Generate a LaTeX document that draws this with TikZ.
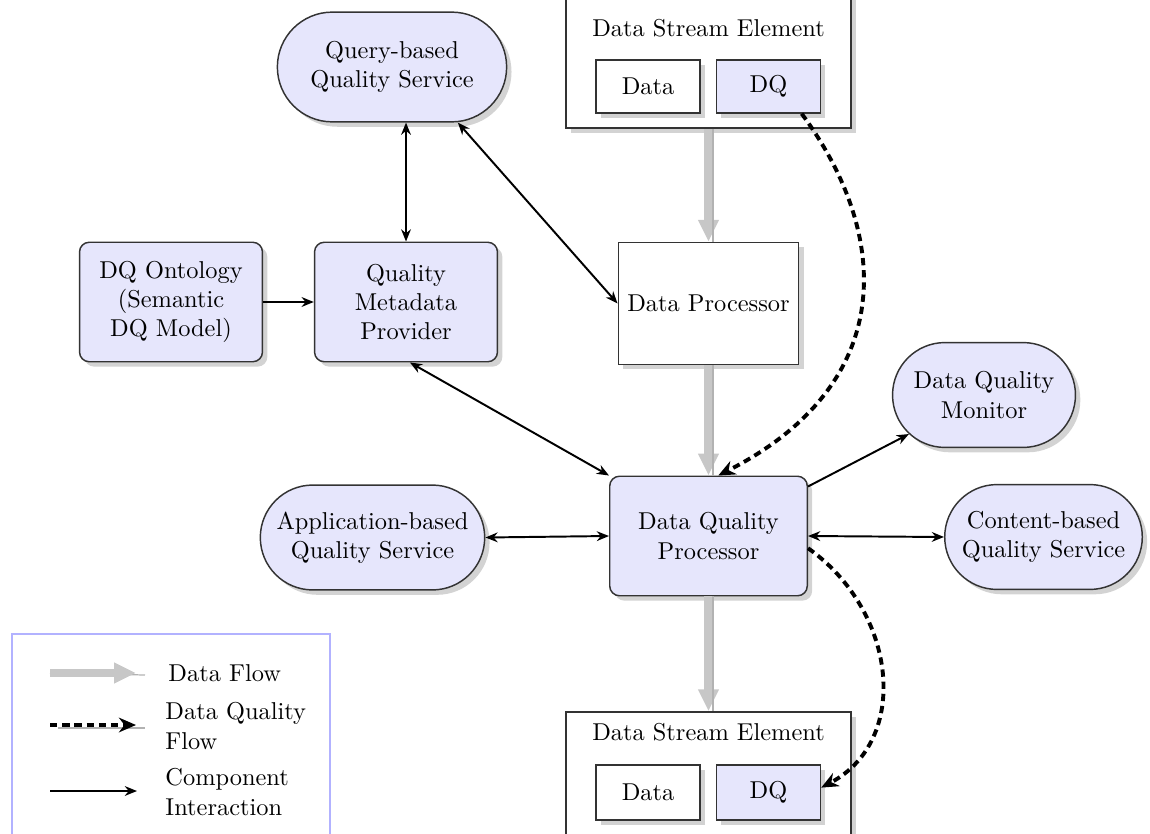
\documentclass[tikz,border=0pt]{standalone}
\usetikzlibrary{shapes.misc,shadows,arrows.meta}
\definecolor{dqfill}{RGB}{230,230,252}
\begin{document}
\begin{tikzpicture}[x=0.41pt,y=0.41pt,
  shad/.style={drop shadow={shadow xshift=2pt,shadow yshift=-2pt,opacity=0.35}},
  bluebox/.style={rectangle,rounded corners=4pt,draw=black!80,line width=0.6pt,fill=dqfill,align=center,shad,inner sep=2pt},
  whitebox/.style={rectangle,draw=black!80,line width=0.6pt,fill=white,align=center,shad,inner sep=2pt},
  pill/.style={rounded rectangle,draw=black!80,line width=0.6pt,fill=dqfill,align=center,shad,inner sep=2pt},
  inter/.style={line width=0.8pt,{Stealth[length=5pt,width=4pt]}-{Stealth[length=5pt,width=4pt]}},
  interone/.style={line width=0.8pt,-{Stealth[length=5pt,width=4pt]}},
  dqflow/.style={line width=1.6pt,dash pattern=on 3pt off 2pt,-{Stealth[length=7pt,width=6pt]}},
  dflow/.style={line width=3.6pt,black!22,-{Triangle[length=9pt,width=8pt]}},
  dthin/.style={line width=0.5pt,black!30},
  lbl/.style={anchor=west,align=left,inner sep=0pt}
]
\useasboundingbox (0,0) rectangle (1150,833);
\clip (0,0) rectangle (1150,833);

% Data stream element (top)
\node[whitebox,minimum width=117pt,minimum height=60.7pt] (dsetop) at (708.5,779) {};
\node (dsettitle) at (708.5,805) {Data Stream Element};
\node[whitebox,minimum width=42.6pt,minimum height=21.7pt] (datatop) at (648,746.5) {Data};
\node[whitebox,fill=dqfill,minimum width=42.6pt,minimum height=21.7pt] (dqtop) at (768.5,746.5) {DQ};

% Data stream element (bottom)
\node[whitebox,minimum width=117pt,minimum height=56.6pt] (dsebot) at (708.5,52) {};
\node (dsebtitle) at (708.5,101) {Data Stream Element};
\node[whitebox,minimum width=42.6pt,minimum height=22.5pt] (databot) at (648,40.5) {Data};
\node[whitebox,fill=dqfill,minimum width=42.6pt,minimum height=22.5pt] (dqbot) at (768.5,40.5) {DQ};

% Components
\node[pill,minimum width=98pt,minimum height=45pt] (qbqs) at (392,766) {Query-based\\Quality Service};
\node[whitebox,minimum width=74pt,minimum height=50pt] (dp) at (708.5,529.5) {Data Processor};
\node[bluebox,minimum width=75pt,minimum height=49pt] (onto) at (171,531) {DQ Ontology\\(Semantic\\DQ Model)};
\node[bluebox,minimum width=75pt,minimum height=49pt] (qmp) at (406,531) {Quality\\Metadata\\Provider};
\node[pill,minimum width=79pt,minimum height=43pt] (mon) at (984,438) {Data Quality\\Monitor};
\node[bluebox,minimum width=81pt,minimum height=49pt] (dqp) at (708.5,297) {Data Quality\\Processor};
\node[pill,minimum width=96pt,minimum height=43pt] (app) at (372.5,295.5) {Application-based\\Quality Service};
\node[pill,minimum width=85pt,minimum height=43pt] (cont) at (1043.5,296) {Content-based\\Quality Service};

% Data flow
\draw[dflow] (dsetop.south) -- (dp.north);
\draw[dthin] ([xshift=1.8pt]dsetop.south) -- ([xshift=1.8pt]dp.north);
\draw[dflow] (dp.south) -- (dqp.north);
\draw[dthin] ([xshift=1.8pt]dp.south) -- ([xshift=1.8pt]dqp.north);
\draw[dflow] (dqp.south) -- (dsebot.north);
\draw[dthin] ([xshift=1.8pt]dqp.south) -- ([xshift=1.8pt]dsebot.north);

% Component interaction
\draw[inter] (qmp.north |- qbqs.south) -- (qmp.north);
\draw[inter] ([xshift=27pt]qbqs.south) -- (dp.west);
\draw[interone] (onto.east) -- (qmp.west);
\draw[inter] ([xshift=1.6pt]qmp.south) -- (dqp.north west);
\draw[inter] (app.east) -- (dqp.west);
\draw[inter] (dqp.east) -- (cont.west);
\draw[interone] ([yshift=-4.5pt]dqp.north east) -- (mon);

% Data quality flow
\draw[dqflow] ([xshift=-8pt]dqtop.south east) .. controls (890,600) and (900,450) .. ([xshift=4pt]dqp.north);
\draw[dqflow] ([yshift=-5pt]dqp.east) .. controls (897,222) and (911,93) .. ([yshift=2pt]dqbot.east);

% Legend
\node[draw=blue!30,line width=0.6pt,minimum width=130.4pt,minimum height=88.6pt,inner sep=0pt] (legend) at (171,91) {};
\coordinate (la1) at (50,160);
\coordinate (lb1) at (136,160);
\coordinate (lc1) at (145,158);
\coordinate (la2) at (50,108);
\coordinate (lb2) at (136,108);
\coordinate (lc2) at (145,105);
\coordinate (ls2) at (58,105);
\coordinate (la3) at (50,42);
\coordinate (lb3) at (137,42);
\draw[dthin] (la1) -- (lc1);
\draw[dflow] (la1) -- (lb1);
\draw[dthin] (ls2) -- (lc2);
\draw[dqflow] (la2) -- (lb2);
\draw[interone] (la3) -- (lb3);
\node[lbl] (lt1) at (168,160) {Data Flow};
\node[lbl] (lt2) at (165,107) {Data Quality\\Flow};
\node[lbl] (lt3) at (165,41) {Component\\Interaction};
\end{tikzpicture}
\end{document}
